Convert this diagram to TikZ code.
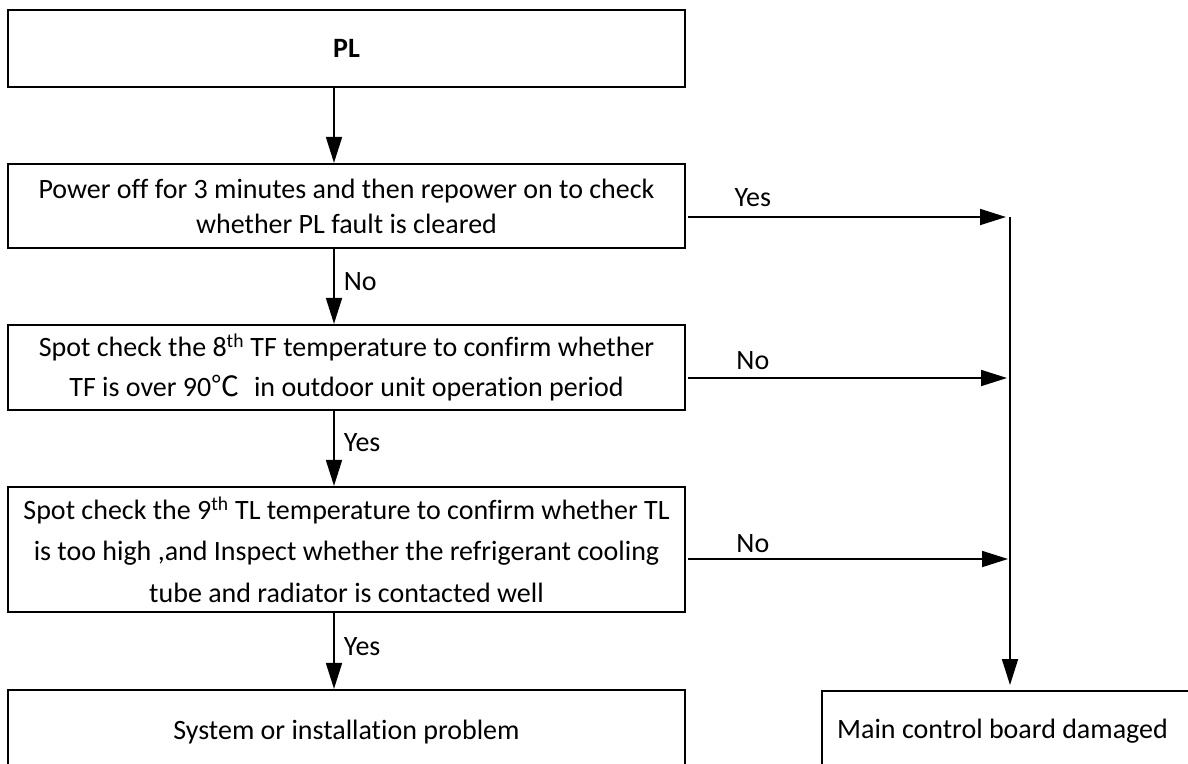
\documentclass[tikz,border=0pt]{standalone}
\usepackage{fontspec}
\setmainfont{Carlito}[Ligatures={NoCommon}]
\newfontfamily\cjk{Noto Sans CJK SC}
\usetikzlibrary{arrows.meta}
\begin{document}
\begin{tikzpicture}[x=1pt,y=-1pt,
  box/.style={draw, line width=2.2pt, minimum width=677pt, align=center, inner sep=0pt},
  arr/.style={line width=1.8pt, -{Triangle[length=26pt,width=16pt]}},
  lbl/.style={font=\fontsize{28}{33}\selectfont, inner sep=0pt}]
\useasboundingbox (0,0) rectangle (1188,763);
\clip (0,0) rectangle (1188,763);
% boxes
\node[box, minimum height=77pt, font=\bfseries\fontsize{28}{33}\selectfont] (b1) at (346.5,48.5) {PL};
\node[box, minimum height=84pt, font=\fontsize{28}{35}\selectfont] (b2) at (346.5,206)
  {Power off for 3 minutes and then repower on to check\\whether PL fault is cleared};
\node[box, minimum height=85pt, font=\fontsize{28}{40}\selectfont] (b3) at (346.5,367.5)
  {Spot check the 8\textsuperscript{th} TF temperature to confirm whether\\TF is over 90{\cjk ℃}\hspace{0.3em} in outdoor unit operation period};
\node[box, minimum height=125pt, font=\fontsize{28}{41.5}\selectfont] (b4) at (346.5,549.5)
  {Spot check the 9\textsuperscript{th} TL temperature to confirm whether TL\\is too high ,and Inspect whether the refrigerant cooling\\tube and radiator is contacted well};
\node[box, minimum height=84pt, font=\fontsize{28}{33}\selectfont] (b5) at (346.5,732)
  {System or installation problem};
\node[draw, line width=2.2pt, minimum width=450pt, minimum height=150pt, anchor=north west] (mb) at (821,690) {};
\node[lbl, anchor=base west] (mbt) at (837,738) {Main control board damaged};
% down arrows
\coordinate (ax) at (334,0);
\draw[arr] (b1.south -| ax) -- (b2.north -| ax);
\draw[arr] (b2.south -| ax) -- node[lbl, pos=0.56, anchor=base west, xshift=9pt] {No} (b3.north -| ax);
\draw[arr] (b3.south -| ax) -- node[lbl, pos=0.545, anchor=base west, xshift=9pt] {Yes} (b4.north -| ax);
\draw[arr] (b4.south -| ax) -- node[lbl, pos=0.56, anchor=base west, xshift=9pt] {Yes} (b5.north -| ax);
% right side
\coordinate (j1) at (1010,217);
\coordinate (j2) at (1010,378);
\coordinate (j3) at (1010,559);
\draw[arr, shorten <=2pt, shorten >=4pt] (b2.east |- j1) -- node[lbl, pos=0.206, anchor=base, yshift=11pt] {Yes} (j1);
\draw[arr, shorten <=2pt, shorten >=3pt] (b3.east |- j2) -- node[lbl, pos=0.206, anchor=base, yshift=9pt] {No} (j2);
\draw[arr, shorten <=2pt, shorten >=2pt] (b4.east |- j3) -- node[lbl, pos=0.206, anchor=base, yshift=7pt] {No} (j3);
\draw[arr, shorten >=5pt] (j1) -- (j1 |- mb.north);
\end{tikzpicture}
\end{document}
